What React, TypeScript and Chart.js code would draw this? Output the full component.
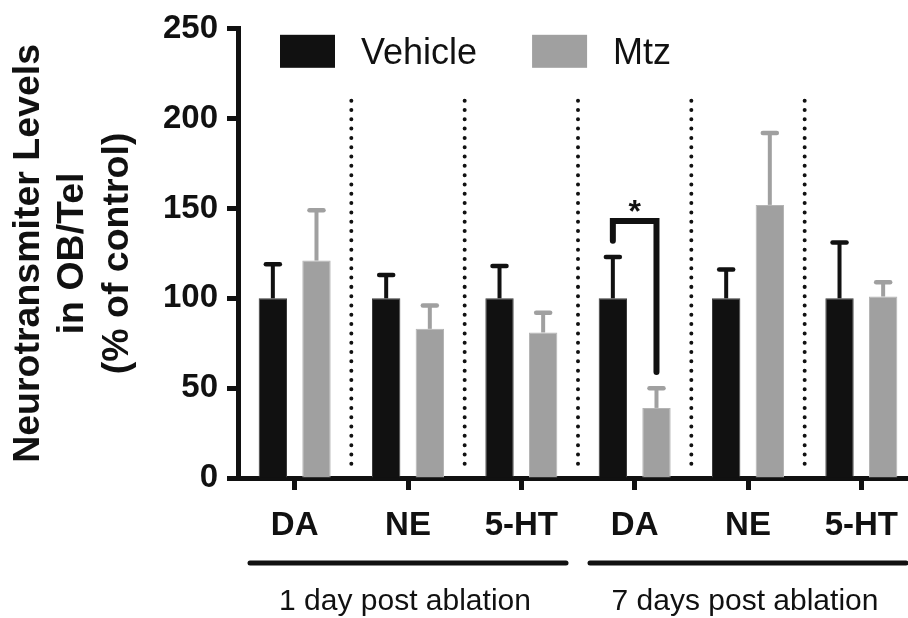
import React, { useEffect, useRef } from 'react';
import { Chart, registerables } from 'chart.js';

Chart.register(...registerables);

const categories = ['DA', 'NE', '5-HT', 'DA', 'NE', '5-HT'];
const seriesLabels = ['Vehicle', 'Mtz'];
const vehicleMeans = [100, 100, 100, 100, 100, 100];
const vehicleErrors = [19, 13, 18, 23, 16, 31];
const mtzMeans = [121, 83, 81, 39, 152, 101];
const mtzErrors = [28, 13, 11, 11, 40, 8];
const yTicks = [0, 50, 100, 150, 200, 250];
const yTitle = ['Neurotransmiter Levels', 'in OB/Tel', '(% of control)'];
const groupLabels = ['1 day post ablation', '7 days post ablation'];
const groupStarts = [0, 3];
const groupEnds = [2, 5];
// significance bracket (values on y scale)
const sigIndex = 3;
const sigTop = 143;
const sigLeftEnd = 132;
const sigRightEnd = 59;
const sigLabel = '*';
const separatorTopValue = 210;
const separatorBottomValue = 3;

const FONT = '"Liberation Sans", Arial, Helvetica, sans-serif';
const INK = '#111111';
const GRAY = '#a0a0a0';
const errorColors = [INK, GRAY];

const decorPlugin = {
  id: 'decor',
  beforeDatasetsDraw(chart: any) {
    const { ctx, scales } = chart;
    const x = scales.x;
    const y = scales.y;
    ctx.save();
    ctx.strokeStyle = INK;
    ctx.lineWidth = 4;
    ctx.lineCap = 'round';
    ctx.setLineDash([0.01, 9.3]);
    for (let i = 0; i < categories.length - 1; i++) {
      const px = (x.getPixelForValue(i) + x.getPixelForValue(i + 1)) / 2;
      ctx.beginPath();
      ctx.moveTo(px, y.getPixelForValue(separatorTopValue));
      ctx.lineTo(px, y.getPixelForValue(separatorBottomValue));
      ctx.stroke();
    }
    ctx.restore();
  },
  afterDatasetsDraw(chart: any) {
    const { ctx, scales } = chart;
    const y = scales.y;
    const errs = [vehicleErrors, mtzErrors];
    const means = [vehicleMeans, mtzMeans];
    ctx.save();
    ctx.lineCap = 'butt';
    chart.data.datasets.forEach((_ds: any, di: number) => {
      const meta = chart.getDatasetMeta(di);
      ctx.strokeStyle = errorColors[di];
      meta.data.forEach((el: any, i: number) => {
        const top = y.getPixelForValue(means[di][i] + errs[di][i]);
        ctx.lineWidth = 4;
        ctx.beginPath();
        ctx.moveTo(el.x, el.y);
        ctx.lineTo(el.x, top);
        ctx.stroke();
        ctx.lineCap = 'round';
        ctx.lineWidth = 4.5;
        ctx.beginPath();
        ctx.moveTo(el.x - 7, top);
        ctx.lineTo(el.x + 7, top);
        ctx.stroke();
        ctx.lineCap = 'butt';
      });
    });
    // significance bracket
    const lx = chart.getDatasetMeta(0).data[sigIndex].x;
    const rx = chart.getDatasetMeta(1).data[sigIndex].x;
    const ty = y.getPixelForValue(sigTop);
    ctx.strokeStyle = INK;
    ctx.lineWidth = 6;
    ctx.lineCap = 'round';
    ctx.lineJoin = 'miter';
    ctx.beginPath();
    ctx.moveTo(lx, y.getPixelForValue(sigLeftEnd));
    ctx.lineTo(lx, ty);
    ctx.lineTo(rx, ty);
    ctx.lineTo(rx, y.getPixelForValue(sigRightEnd));
    ctx.stroke();
    ctx.fillStyle = INK;
    ctx.font = `bold 32px ${FONT}`;
    ctx.textAlign = 'center';
    ctx.textBaseline = 'alphabetic';
    ctx.fillText(sigLabel, (lx + rx) / 2, ty + 1);
    ctx.restore();
  },
  afterDraw(chart: any) {
    const { ctx, scales, chartArea } = chart;
    const x = scales.x;
    ctx.save();
    // legend
    ctx.font = `36px ${FONT}`;
    ctx.textAlign = 'left';
    ctx.textBaseline = 'alphabetic';
    let lx = chartArea.left + 42;
    chart.data.datasets.forEach((ds: any) => {
      ctx.fillStyle = ds.backgroundColor;
      ctx.fillRect(lx, chartArea.top + 6, 55, 33);
      ctx.fillStyle = INK;
      const tx = lx + 55 + 26;
      ctx.fillText(ds.label, tx, chartArea.top + 35);
      lx = tx + ctx.measureText(ds.label).width + 55;
    });
    // group labels
    const cw = x.getPixelForValue(1) - x.getPixelForValue(0);
    ctx.strokeStyle = INK;
    ctx.lineWidth = 5;
    ctx.lineCap = 'round';
    ctx.font = `30px ${FONT}`;
    ctx.textAlign = 'center';
    groupLabels.forEach((lab, g) => {
      const x1 = x.getPixelForValue(groupStarts[g]) - cw / 2;
      const x2 = x.getPixelForValue(groupEnds[g]) + cw / 2;
      const ly = chartArea.bottom + 85;
      ctx.beginPath();
      ctx.moveTo(x1 + 12, ly);
      ctx.lineTo(x2 - 12, ly);
      ctx.stroke();
      ctx.fillText(lab, (x1 + x2) / 2 - 3, chartArea.bottom + 132);
    });
    ctx.restore();
  },
};

export default function App() {
  const ref = useRef<HTMLCanvasElement | null>(null);
  useEffect(() => {
    if (!ref.current) return;
    const chart = new Chart(ref.current, {
      type: 'bar',
      data: {
        labels: categories,
        datasets: [
          {
            label: seriesLabels[0],
            data: vehicleMeans,
            backgroundColor: INK,
            borderColor: '#3c3c3c',
            borderWidth: 1,
          },
          {
            label: seriesLabels[1],
            data: mtzMeans,
            backgroundColor: GRAY,
            borderColor: '#b4b4b4',
            borderWidth: 1,
          },
        ],
      },
      options: {
        responsive: false,
        animation: false,
        devicePixelRatio: 1,
        layout: { padding: { top: 22, left: 0, right: 0, bottom: 0 } },
        datasets: { bar: { categoryPercentage: 0.77, barPercentage: 0.65 } },
        plugins: { legend: { display: false }, tooltip: { enabled: false } },
        scales: {
          x: {
            type: 'category',
            offset: true,
            z: 1,
            grid: { offset: false, drawOnChartArea: false, tickLength: 12, tickWidth: 5, tickColor: INK },
            border: { display: true, width: 5, color: INK },
            ticks: {
              font: { family: FONT, size: 33, weight: 'bold' },
              color: INK,
              padding: 16,
              maxRotation: 0,
              autoSkip: false,
            },
            afterFit: (s: any) => {
              s.height = 140;
            },
          },
          y: {
            min: 0,
            max: 250,
            grid: { drawOnChartArea: false, tickLength: 11, tickWidth: 5, tickColor: INK },
            border: { display: true, width: 5, color: INK },
            ticks: {
              font: { family: FONT, size: 33, weight: 'bold' },
              color: INK,
              padding: 9,
            },
            afterBuildTicks: (s: any) => {
              s.ticks = yTicks.map((v) => ({ value: v }));
            },
            title: {
              display: true,
              text: yTitle,
              color: INK,
              font: { family: FONT, size: 37.5, weight: 'bold', lineHeight: 1.175 },
              padding: { top: 7, bottom: 0 },
            },
            afterFit: (s: any) => {
              s.width = 238;
            },
          },
        },
      },
      plugins: [decorPlugin],
    });
    return () => chart.destroy();
  }, []);
  return (
    <div
      style={{
        position: 'fixed',
        left: 0,
        top: 0,
        width: 908,
        height: 618,
        overflow: 'hidden',
        background: '#fff',
      }}
    >
      <canvas ref={ref} width={918} height={618} style={{ display: 'block' }} />
    </div>
  );
}
